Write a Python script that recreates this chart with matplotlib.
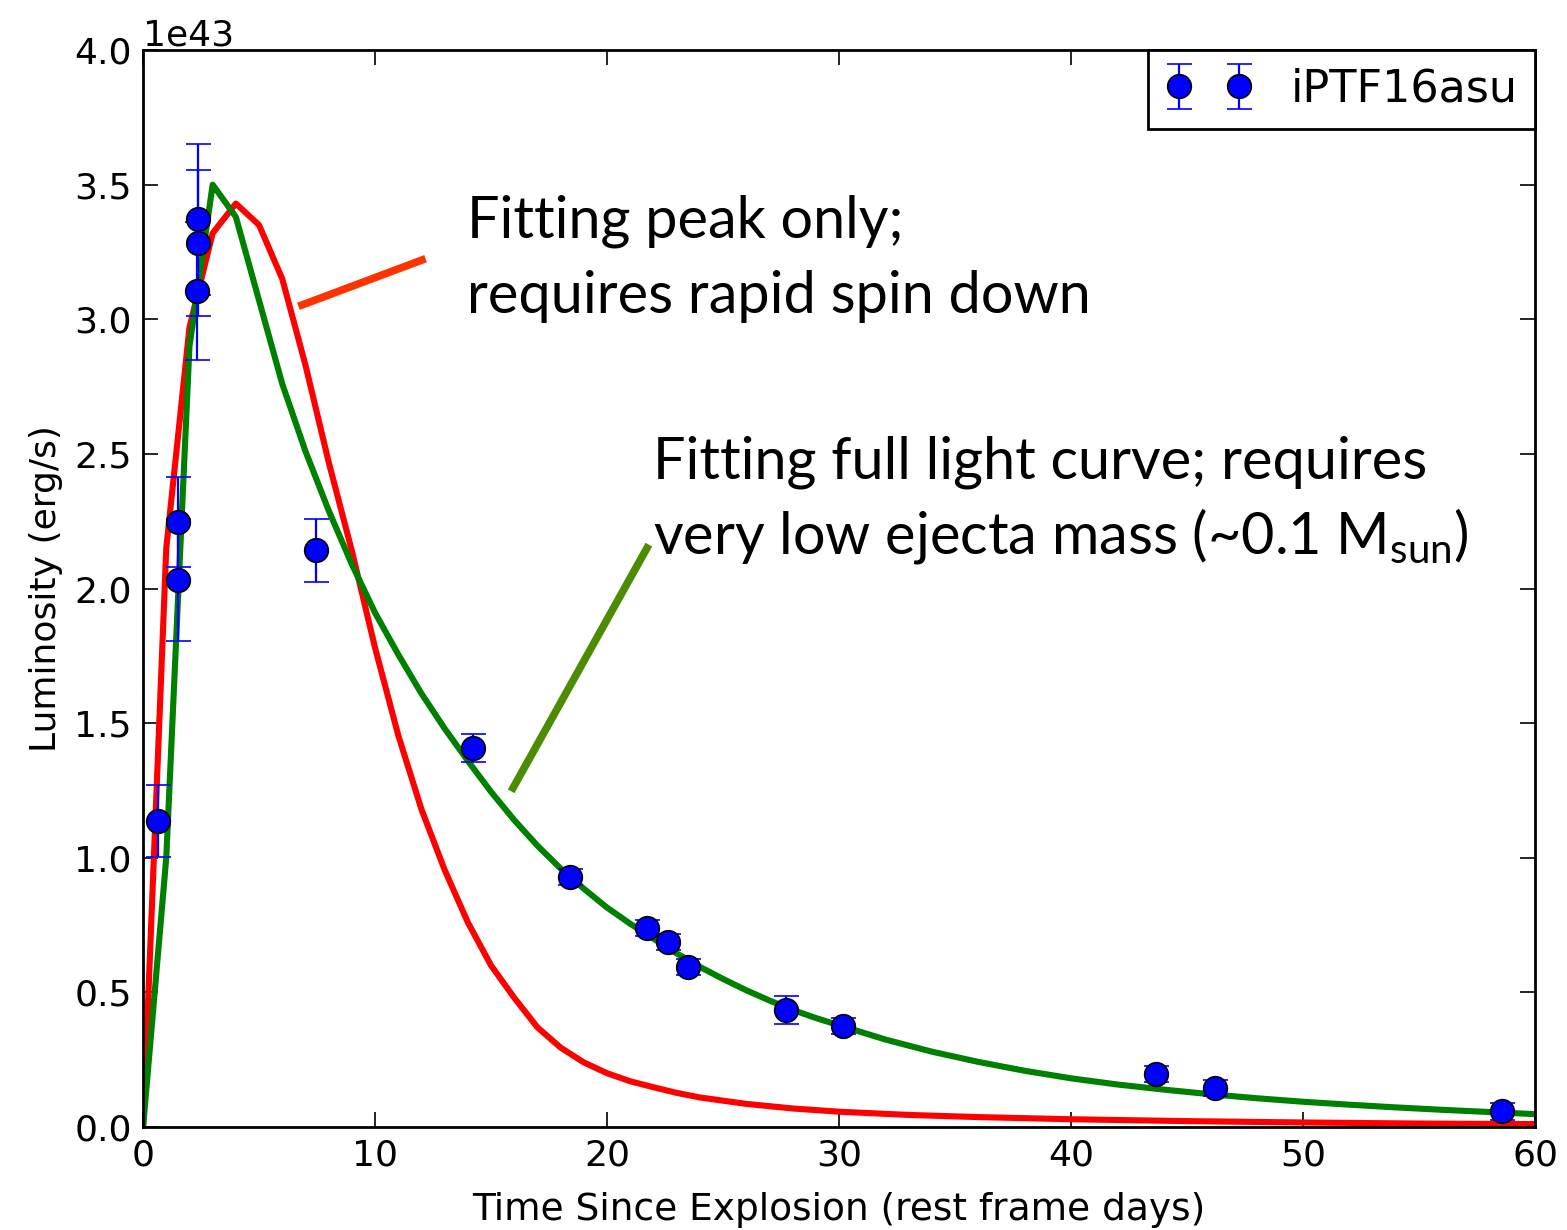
import matplotlib
matplotlib.use("Agg")
import matplotlib.pyplot as plt

# observed bolometric light curve (luminosity in 1e43 erg/s)
obs_t = [0.65, 1.52, 1.52, 2.38, 2.38, 2.34, 7.46, 14.22, 18.40, 21.72, 22.63,
         23.49, 27.70, 30.17, 43.66, 46.20, 58.58]
obs_L = [1.137, 2.248, 2.032, 3.372, 3.283, 3.105, 2.143, 1.408, 0.929, 0.739,
         0.687, 0.594, 0.435, 0.375, 0.198, 0.145, 0.058]
obs_err = [0.134, 0.167, 0.227, 0.280, 0.270, 0.256, 0.117, 0.052, 0.03, 0.03,
           0.03, 0.03, 0.052, 0.03, 0.03, 0.03, 0.03]

# model: fit to the peak only (red)
red_t = [0, 1, 2, 3, 4, 5, 6, 7, 8, 9, 10, 11, 12, 13, 14, 15, 16, 17, 18, 19,
         20, 21, 22, 23, 24, 26, 28, 30, 33, 36, 40, 45, 50, 55, 60]
red_L = [0.0, 2.15, 2.97, 3.32, 3.43, 3.35, 3.15, 2.83, 2.47, 2.14, 1.78, 1.455,
         1.18, 0.955, 0.76, 0.60, 0.48, 0.37, 0.295, 0.24, 0.20, 0.17, 0.148,
         0.127, 0.11, 0.086, 0.069, 0.057, 0.045, 0.037, 0.029, 0.022, 0.017,
         0.013, 0.011]

# model: fit to the full light curve (green)
grn_t = [0, 1, 2, 3, 4, 5, 6, 7, 8, 9, 10, 11, 12, 13, 14, 15, 16, 17, 18, 19,
         20, 21, 22, 23, 24, 25, 26, 27, 28, 29, 30, 32, 34, 36, 38, 40, 42, 44,
         46, 48, 50, 52, 54, 56, 58, 60]
grn_L = [0.0, 1.0, 2.9, 3.5, 3.38, 3.07, 2.76, 2.51, 2.29, 2.09, 1.91, 1.755,
         1.61, 1.48, 1.36, 1.245, 1.14, 1.045, 0.96, 0.885, 0.815, 0.755, 0.70,
         0.645, 0.595, 0.55, 0.508, 0.47, 0.435, 0.405, 0.378, 0.325, 0.28,
         0.242, 0.209, 0.181, 0.158, 0.139, 0.122, 0.107, 0.094, 0.083, 0.073,
         0.064, 0.056, 0.048]

SCALE = 1e43

fig = plt.figure(figsize=(15.67, 12.30), dpi=100)
ax = fig.add_axes([0.0913, 0.0837, 0.8883, 0.8756])

ax.plot(red_t, [v * SCALE for v in red_L], color="red", lw=4.4, zorder=2)
ax.plot(grn_t, [v * SCALE for v in grn_L], color="green", lw=4.4, zorder=2)
ax.errorbar(obs_t, [v * SCALE for v in obs_L], yerr=[e * SCALE for e in obs_err],
            fmt="o", color="blue", ms=17, mec="black", mew=1.2, ecolor="blue",
            elinewidth=1.6, capsize=9, capthick=1.6, label="iPTF16asu", zorder=3)

ax.set_xlim(0, 60)
ax.set_ylim(0, 4.0e43)
ax.set_xticks([0, 10, 20, 30, 40, 50, 60])
ax.set_yticks([i * 0.5e43 for i in range(9)])
ax.tick_params(direction="in", top=True, right=True, length=11, width=1.2,
               labelsize=26, pad=8)
ax.yaxis.get_offset_text().set_fontsize(26)
ax.yaxis.get_offset_text().set_y(1.008)
for s in ax.spines.values():
    s.set_linewidth(2)
ax.set_xlabel("Time Since Explosion (rest frame days)", fontsize=27, labelpad=14)
ax.set_ylabel("Luminosity (erg/s)", fontsize=26, labelpad=8)

leg = ax.legend(loc="upper right", numpoints=2, fontsize=32, borderaxespad=0,
                fancybox=False, framealpha=1, handlelength=1.96, handletextpad=0.85,
                borderpad=0.4)
leg.get_frame().set_edgecolor("black")
leg.get_frame().set_linewidth(2)

# slide annotations
plt.rcParams["mathtext.fontset"] = "custom"
plt.rcParams["mathtext.rm"] = "Lato"
ann = dict(fontsize=41.5, family="Lato", color="black", ha="left", va="baseline")
fig.text(467 / 1567, 1 - 238 / 1230, "Fitting peak only;", **ann)
fig.text(467 / 1567, 1 - 313 / 1230, "requires rapid spin down", **ann)
fig.text(653 / 1567, 1 - 478 / 1230, "Fitting full light curve; requires", **ann)
fig.text(653 / 1567, 1 - 553 / 1230,
         r"very low ejecta mass (~0.1 M$\mathregular{_{sun}}$)", **ann)

fig.add_artist(plt.Line2D([302 / 1567, 422 / 1567], [1 - 305 / 1230, 1 - 260 / 1230],
                          color="#ff3300", lw=5.5, transform=fig.transFigure))
fig.add_artist(plt.Line2D([513 / 1567, 647 / 1567], [1 - 788 / 1230, 1 - 548 / 1230],
                          color="#4c8c00", lw=5.5, transform=fig.transFigure))

fig.savefig("out.png", dpi=100)
